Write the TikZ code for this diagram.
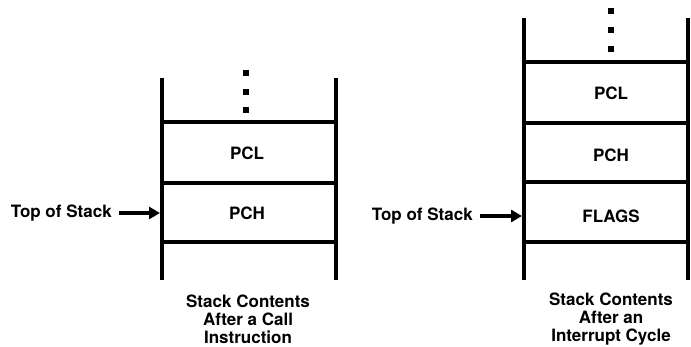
\documentclass[tikz,border=0pt]{standalone}
\usepackage{fontspec}
\setmainfont{TeX Gyre Heros}
\usetikzlibrary{arrows.meta}
\begin{document}
\begin{tikzpicture}[x=1pt,y=-1pt,
  wall/.style={line width=4pt},
  rung/.style={line width=3.6pt},
  cell/.style={font=\fontsize{17}{18}\selectfont\bfseries, inner sep=0pt},
  caption/.style={font=\fontsize{17}{18}\selectfont\bfseries, align=center, inner sep=0pt},
  pointer/.style={line width=4pt, -{Triangle[length=11pt,width=12pt]}},
  dot/.style={fill=black, minimum size=5.5pt, inner sep=0pt}]
\useasboundingbox (0,0) rectangle (691,347);

% --- stack after a CALL instruction ---
\draw[wall] (162,78) -- (162,280);
\draw[wall] (336,78) -- (336,280);
\foreach \yy in {122,183,242} \draw[rung] (160,\yy) -- (338,\yy);
\foreach \yy in {73,92,110} \node[dot] at (246,\yy) {};
\node[cell] (pcl1) at (247,153) {PCL};
\node[cell] (pch1) at (247,213) {PCH};
\node[cell, anchor=east] (tos1) at (112,213) {Top of Stack};
\coordinate (wall1) at (160,213);
\draw[pointer] ([xshift=7pt]tos1.east) -- (wall1);
\node[caption] (cap1) at (248,319) {Stack Contents\\After a Call\\Instruction};

% --- stack after an interrupt cycle ---
\draw[wall] (524,18) -- (524,280);
\draw[wall] (688,18) -- (688,280);
\foreach \yy in {62,123,182,242} \draw[rung] (522,\yy) -- (690,\yy);
\foreach \yy in {11,30,49} \node[dot] at (611,\yy) {};
\node[cell] (pcl2) at (611,93) {PCL};
\node[cell] (pch2) at (611,155) {PCH};
\node[cell] (flags2) at (611,216) {FLAGS};
\node[cell, anchor=east] (tos2) at (473,216) {Top of Stack};
\coordinate (wall2) at (522,216);
\draw[pointer] ([xshift=7pt]tos2.east) -- (wall2);
\node[caption] (cap2) at (611,319) {Stack Contents\\After an\\Interrupt Cycle};
\end{tikzpicture}
\end{document}
